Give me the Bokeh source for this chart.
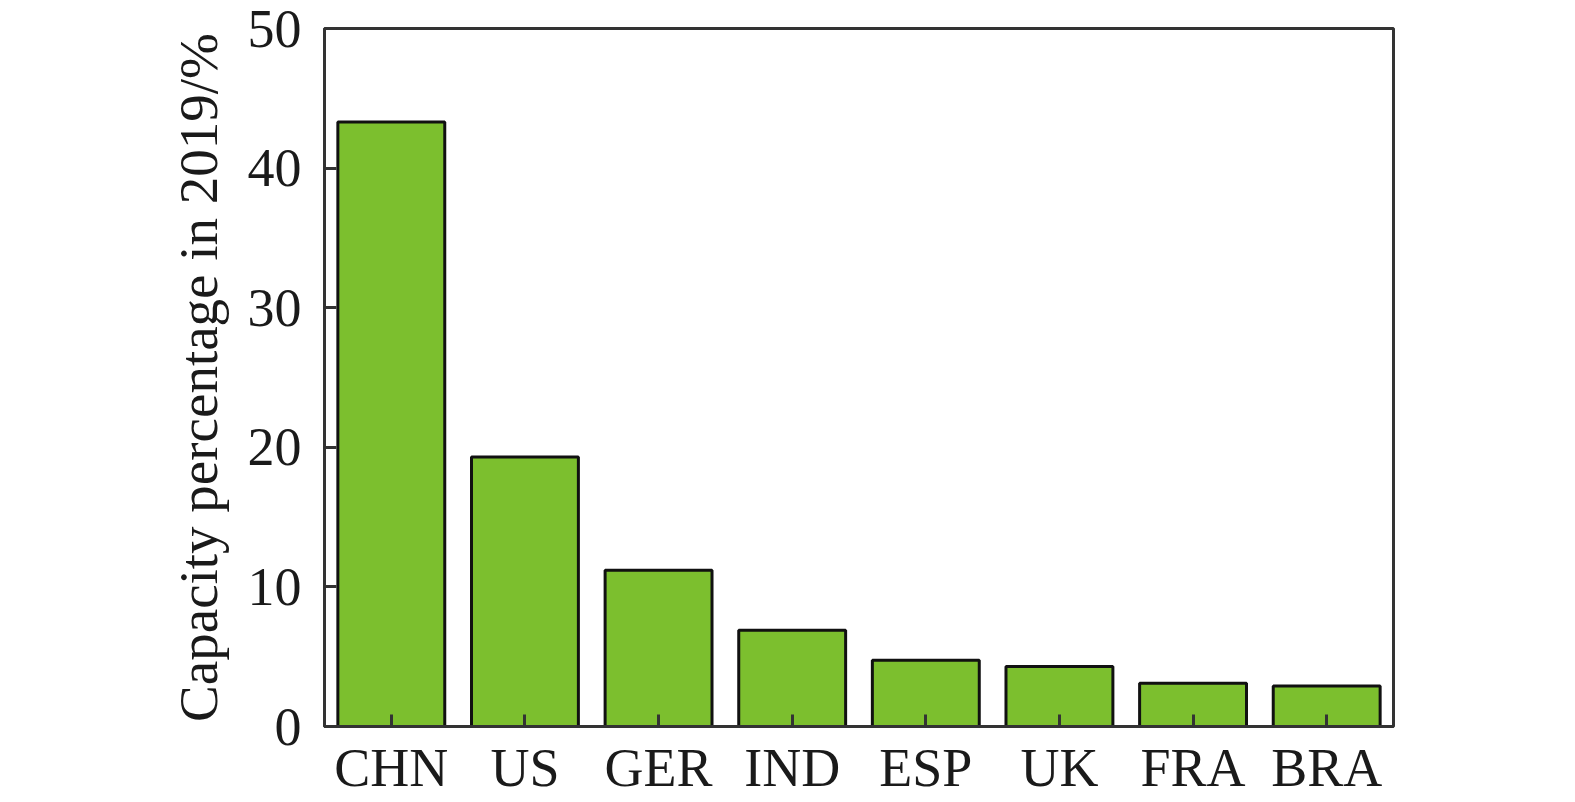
from bokeh.plotting import figure
from bokeh.embed import file_html
from bokeh.resources import INLINE
from bokeh.models import ColumnDataSource, FixedTicker

countries = ["CHN", "US", "GER", "IND", "ESP", "UK", "FRA", "BRA"]
capacity_pct = [43.3, 19.3, 11.2, 6.9, 4.75, 4.3, 3.1, 2.9]
y_ticks = [0, 10, 20, 30, 40, 50]

src = ColumnDataSource(dict(x=countries, top=capacity_pct))

p = figure(x_range=countries, y_range=(0, 50), width=1567, height=800,
           output_backend="svg", toolbar_location=None,
           min_border_left=324, min_border_right=174, min_border_top=28, min_border_bottom=73)

p.vbar(x="x", top="top", width=0.8, source=src, fill_color="#7cbf2e",
       line_color="#111111", line_width=3)

p.xgrid.visible = False
p.ygrid.visible = False
p.outline_line_color = "#333333"
p.outline_line_width = 3
p.outline_line_alpha = 1.0

for ax in (p.xaxis[0], p.yaxis[0]):
    ax.axis_line_color = "#333333"
    ax.axis_line_width = 3
    ax.major_tick_in = 12
    ax.major_tick_out = 0
    ax.major_tick_line_color = "#333333"
    ax.major_tick_line_width = 3
    ax.minor_tick_line_color = None
    ax.major_label_text_font = "Liberation Serif"
    ax.major_label_text_font_size = "54px"
    ax.major_label_text_color = "#1a1a1a"

p.yaxis[0].ticker = FixedTicker(ticks=y_ticks)
p.yaxis[0].major_label_standoff = 23
p.xaxis[0].major_label_standoff = 11
p.yaxis[0].axis_label = "Capacity percentage in 2019/%"
p.yaxis[0].axis_label_text_font = "Liberation Serif"
p.yaxis[0].axis_label_text_font_size = "55px"
p.yaxis[0].axis_label_text_font_style = "normal"
p.yaxis[0].axis_label_text_color = "#1a1a1a"
p.yaxis[0].axis_label_standoff = 16

open("out.html", "w").write(file_html(p, INLINE))
